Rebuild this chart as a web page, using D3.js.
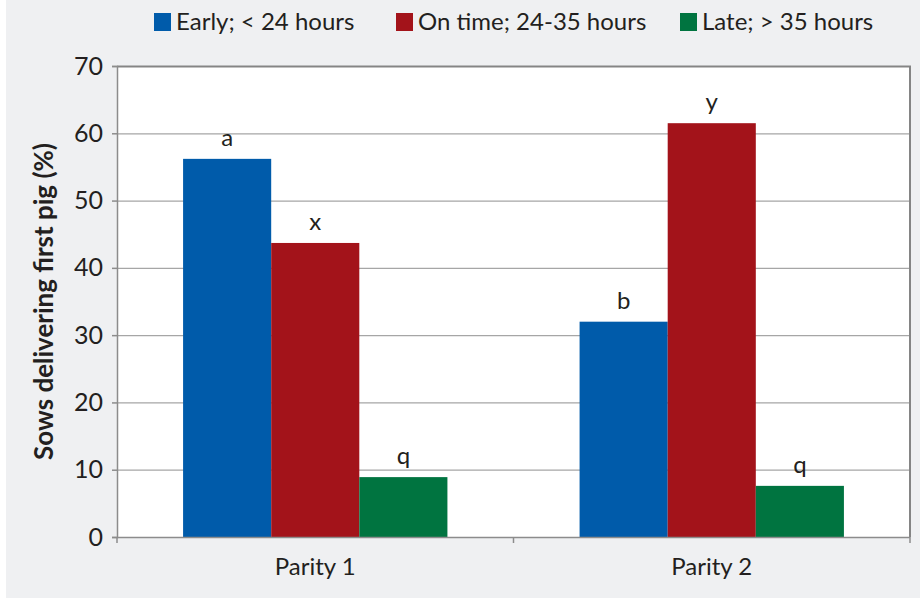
<!DOCTYPE html>
<html>
<head>
<meta charset="utf-8">
<script src="https://cdn.jsdelivr.net/npm/d3@7"></script>
<style>
  html, body { margin: 0; padding: 0; background: #ffffff; }
  svg { display: block; }
  text { font-family: Lato, "Open Sans", sans-serif; fill: #231f20; }
</style>
</head>
<body>
<svg id="chart" width="920" height="601"></svg>
<script>
// Farrowing onset groups by parity
const groups = ["Parity 1", "Parity 2"];
const seriesNames = ["Early; < 24 hours", "On time; 24-35 hours", "Late; > 35 hours"];
const seriesColors = ["#005baa", "#a3131a", "#007440"];
const earlyValues = [56.2, 32.0];
const onTimeValues = [43.7, 61.5];
const lateValues = [8.9, 7.6];
const earlyLetters = ["a", "b"];
const onTimeLetters = ["x", "y"];
const lateLetters = ["q", "q"];
const yTicks = [0, 10, 20, 30, 40, 50, 60, 70];

const seriesValues = [earlyValues, onTimeValues, lateValues];
const seriesLetters = [earlyLetters, onTimeLetters, lateLetters];

const svg = d3.select("#chart");
const W = 920, H = 601;
const margin = { left: 117, right: 10, top: 66, bottom: 64 };
const plotW = W - margin.left - margin.right;
const plotH = H - margin.top - margin.bottom;

// panel background
svg.append("rect").attr("x", 6).attr("y", 0).attr("width", W - 6).attr("height", 598)
  .attr("fill", "#eff0f2");

const g = svg.append("g").attr("transform", `translate(${margin.left},${margin.top})`);

const x0 = d3.scaleBand().domain(groups).range([0, plotW]).padding(0);
const x1 = d3.scaleBand().domain(d3.range(3)).range([0, x0.bandwidth()]).paddingOuter(0.75).paddingInner(0);
const y = d3.scaleLinear().domain([0, 70]).range([plotH, 0]);

// plot area
g.append("rect").attr("x", 0).attr("y", 0).attr("width", plotW).attr("height", plotH)
  .attr("fill", "#ffffff");

// gridlines
g.append("g").selectAll("line").data(yTicks.filter(d => d > 0 && d < 70)).join("line")
  .attr("x1", 0).attr("x2", plotW)
  .attr("y1", d => y(d) + 0.5).attr("y2", d => y(d) + 0.5)
  .attr("stroke", "#a6a6a6").attr("stroke-width", 1.3);

// bars
const rows = [];
groups.forEach((grp, gi) => {
  seriesValues.forEach((vals, si) => {
    rows.push({ grp, si, value: vals[gi], letter: seriesLetters[si][gi] });
  });
});

g.append("g").selectAll("rect").data(rows).join("rect")
  .attr("x", d => x0(d.grp) + x1(d.si))
  .attr("width", x1.bandwidth())
  .attr("y", d => y(d.value))
  .attr("height", d => y(0) - y(d.value))
  .attr("fill", d => seriesColors[d.si]);

// significance letters
g.append("g").selectAll("text").data(rows).join("text")
  .attr("x", d => x0(d.grp) + x1(d.si) + x1.bandwidth() / 2)
  .attr("y", d => y(d.value) - 13)
  .attr("text-anchor", "middle")
  .attr("font-size", 24)
  .text(d => d.letter);

// top and right frame
g.append("path")
  .attr("d", `M0,0.5H${plotW}V${plotH}`)
  .attr("fill", "none").attr("stroke", "#858585").attr("stroke-width", 2);

// y axis
const yAxis = g.append("g").call(d3.axisLeft(y).tickValues(yTicks).tickSize(5).tickPadding(9));
yAxis.select(".domain").attr("stroke", "#8c8c8c").attr("stroke-width", 1.5);
yAxis.selectAll(".tick line").attr("stroke", "#8c8c8c").attr("stroke-width", 1.5);
yAxis.selectAll(".tick text").attr("font-size", 25).attr("fill", "#231f20")
  .attr("font-family", "Lato, sans-serif");

// x axis with boundary ticks between groups
const xAxisG = g.append("g").attr("transform", `translate(0,${plotH})`);
xAxisG.append("line").attr("x1", 0).attr("x2", plotW).attr("y1", 0.5).attr("y2", 0.5)
  .attr("stroke", "#8c8c8c").attr("stroke-width", 1.5);
const bounds = [0, x0.bandwidth(), plotW];
xAxisG.selectAll("line.bt").data(bounds).join("line").attr("class", "bt")
  .attr("x1", d => d).attr("x2", d => d).attr("y1", 0).attr("y2", 6)
  .attr("stroke", "#8c8c8c").attr("stroke-width", 1.5);
xAxisG.selectAll("text").data(groups).join("text")
  .attr("x", d => x0(d) + x0.bandwidth() / 2)
  .attr("y", 38)
  .attr("text-anchor", "middle")
  .attr("font-size", 24)
  .text(d => d);

// y axis title
svg.append("text")
  .attr("transform", `translate(53,${margin.top + plotH / 2}) rotate(-90)`)
  .attr("text-anchor", "middle")
  .attr("font-size", 26)
  .attr("font-weight", "bold")
  .text("Sows delivering first pig (%)");

// legend
const legendX = [154, 396, 680];
const legend = svg.append("g").selectAll("g").data(seriesNames).join("g")
  .attr("transform", (d, i) => `translate(${legendX[i]},13)`);
legend.append("rect").attr("width", 17).attr("height", 18)
  .attr("fill", (d, i) => seriesColors[i]);
legend.append("text").attr("x", 22).attr("y", 17)
  .attr("font-size", 24)
  .text(d => d);
</script>
</body>
</html>
